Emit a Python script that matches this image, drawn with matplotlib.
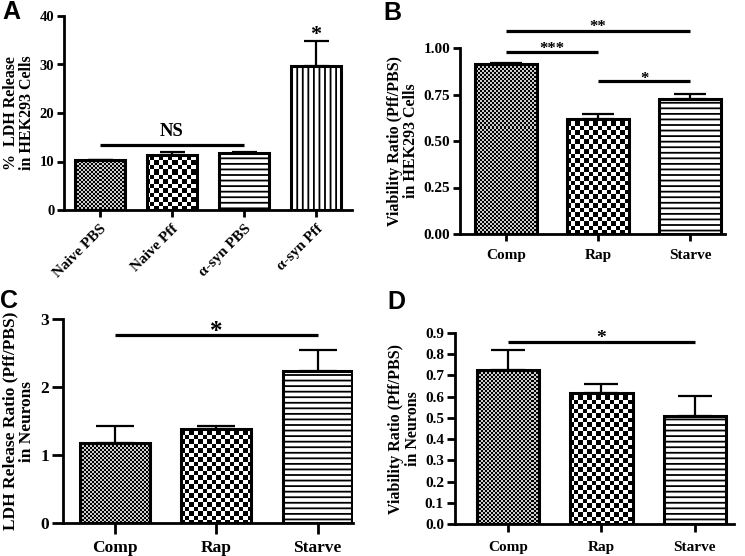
import numpy as np
import matplotlib
matplotlib.use("Agg")
import matplotlib.pyplot as plt

plt.rcParams['font.family'] = ['Liberation Serif', 'DejaVu Serif']
plt.rcParams['font.weight'] = 'bold'
plt.rcParams['hatch.linewidth'] = 1.3

## Data ##
a_labels = ['Naive PBS', 'Naive Pff', 'α-syn PBS', 'α-syn Pff']
a_means = [10.3, 11.4, 11.7, 29.6]
a_sem = [0.0, 0.65, 0.3, 5.3]

b_labels = ['Comp', 'Rap', 'Starve']
b_means = [0.915, 0.62, 0.725]
b_sem = [0.005, 0.025, 0.03]

c_labels = ['Comp', 'Rap', 'Starve']
c_means = [1.17, 1.38, 2.24]
c_sem = [0.26, 0.05, 0.30]

d_labels = ['Comp', 'Rap', 'Starve']
d_means = [0.728, 0.615, 0.508]
d_sem = [0.09, 0.043, 0.095]

# patterns per bar
a_patterns = ['fine', 'checker', 'hlines', 'vlines']
bcd_patterns = ['fine', 'checker', 'hlines']

W, H = 745, 556
fig = plt.figure(figsize=(W / 100, H / 100), dpi=100)


def make_axes(left, top, right, bottom):
    # pixel box -> figure fraction
    return fig.add_axes([left / W, 1 - bottom / H, (right - left) / W, (bottom - top) / H])


def fill_pattern(ax, bar, kind):
    x0, y0 = bar.get_x(), bar.get_y()
    w, h = bar.get_width(), bar.get_height()
    (px0, py0), (px1, py1) = ax.transData.transform([(x0, y0), (x0 + w, y0 + h)])
    # snap image to whole pixels so the pattern maps 1:1 onto the screen
    px0, py0 = np.floor(px0) - 1, np.floor(py0) - 1
    px1, py1 = np.ceil(px1) + 1, np.ceil(py1) + 1
    wpx, hpx = int(px1 - px0), int(py1 - py0)
    (ex0, ey0), (ex1, ey1) = ax.transData.inverted().transform([(px0, py0), (px1, py1)])
    yy, xx = np.mgrid[0:hpx, 0:wpx]
    if kind == 'fine':
        arr = ((xx // 2 + yy // 2) % 2) * 0.8
    else:
        arr = (((xx * 2) // 9 + (yy * 2) // 9) % 2).astype(float)
    im = ax.imshow(arr, cmap='gray', vmin=0, vmax=1, extent=(ex0, ex1, ey0, ey1),
                   aspect='auto', interpolation='nearest', origin='lower', zorder=2)
    im.set_clip_path(bar)


def panel(ax, labels, means, sem, patterns, xlim, ylim, width, capsize, fs, ticklen=5):
    x = np.arange(len(labels))
    ax.set_xlim(*xlim)
    ax.set_ylim(*ylim)
    for i in range(len(labels)):
        kind = patterns[i]
        hatch = {'hlines': '---', 'vlines': '|||'}.get(kind)
        face = 'white' if hatch else 'none'
        bar = ax.bar(x[i], means[i], width=width, facecolor=face, edgecolor='black',
                     linewidth=2.2, hatch=hatch, zorder=3)[0]
        if hatch is None:
            fill_pattern(ax, bar, kind)
    ax.errorbar(x, means, yerr=[np.zeros(len(sem)), sem], fmt='none', ecolor='black',
                elinewidth=1.6, capsize=capsize, capthick=1.6, zorder=4)
    ax.set_xlim(*xlim)
    ax.set_ylim(*ylim)
    for s in ['top', 'right']:
        ax.spines[s].set_visible(False)
    for s in ['left', 'bottom']:
        ax.spines[s].set_linewidth(2.0)
    ax.tick_params(axis='both', direction='out', width=2.0, length=ticklen, labelsize=fs, pad=2)
    ax.set_xticks(x)
    ax.set_xticklabels(labels, fontweight='bold')
    for t in ax.get_yticklabels():
        t.set_fontweight('bold')
    return x


def sig(ax, x1, x2, y, text, ty, fs):
    ax.plot([x1, x2], [y, y], color='black', lw=2.3, clip_on=False, solid_capstyle='butt')
    ax.text((x1 + x2) / 2, ty, text, ha='center', va='center', fontsize=fs,
            fontweight='bold', clip_on=False)


## Panel A ##
axA = make_axes(64, 16, 352, 210)
xa = panel(axA, a_labels, a_means, a_sem, a_patterns, (-0.5, 3.5), (0, 40), 0.7, 9, 10.5)
axA.set_yticks([0, 10, 20, 30, 40])
for t in axA.get_xticklabels():
    t.set_rotation(45)
    t.set_ha('right')
    t.set_rotation_mode('anchor')
    t.set_fontsize(11)
axA.tick_params(axis='x', pad=4)
axA.set_ylabel('%  LDH Release\nin HEK293 Cells', fontsize=11.5, fontweight='bold',
               labelpad=3, linespacing=1.05)
sig(axA, xa[0], xa[2], 13.4, 'NS', 16.2, 13.5)
axA.text(xa[3], 36.0, '*', ha='center', va='center', fontsize=16, fontweight='bold')

## Panel B ##
axB = make_axes(460, 48, 725, 234)
xb = panel(axB, b_labels, b_means, b_sem, bcd_patterns, (-0.5, 2.38), (0, 1.0), 0.67, 11.5, 11)
axB.set_yticks([0, 0.25, 0.5, 0.75, 1.0])
axB.set_yticklabels(['0.00', '0.25', '0.50', '0.75', '1.00'], fontweight='bold')
axB.set_ylabel('Viability Ratio (Pff/PBS)\nin HEK293 Cells', fontsize=11.5, fontweight='bold',
               labelpad=3, linespacing=1.05)
axB.tick_params(axis='x', pad=6)
sig(axB, xb[0], xb[2], 1.089, '**', 1.115, 12)
sig(axB, xb[0], xb[1], 0.978, '***', 0.995, 12)
sig(axB, xb[1], xb[2], 0.82, '*', 0.835, 12)

## Panel C ##
axC = make_axes(63, 319, 353, 523)
xc = panel(axC, c_labels, c_means, c_sem, bcd_patterns, (-0.51, 2.35), (0, 3), 0.69, 13.5, 12.5,
           ticklen=8)
axC.set_yticks([0, 1, 2, 3])
axC.set_ylabel('LDH Release Ratio (Pff/PBS)\nin Neurons', fontsize=12.5, fontweight='bold',
               labelpad=4, linespacing=1.0)
axC.tick_params(axis='x', pad=4)
sig(axC, xc[0], xc[2], 2.76, '*', 2.81, 18)

## Panel D ##
axD = make_axes(455, 333, 734, 524)
xd = panel(axD, d_labels, d_means, d_sem, bcd_patterns, (-0.57, 2.42), (0, 0.9), 0.67, 12, 11,
           ticklen=6)
axD.set_yticks(np.arange(0, 0.95, 0.1))
axD.set_yticklabels([f'{v:.1f}' for v in np.arange(0, 0.95, 0.1)], fontweight='bold')
axD.set_ylabel('Viability Ratio (Pff/PBS)\nin Neurons', fontsize=11.5, fontweight='bold',
               labelpad=3, linespacing=1.05)
axD.tick_params(axis='x', pad=6)
sig(axD, xd[0], xd[2], 0.859, '*', 0.872, 14)

## Panel letters ##
for letter, px, py in [('A', 2, 0), ('B', 383, 1), ('C', 0, 289), ('D', 387, 290)]:
    fig.text(px / W, 1 - py / H, letter, ha='left', va='top', fontsize=18,
             fontweight='bold', family='Liberation Sans')

fig.savefig('out.png', dpi=100)
